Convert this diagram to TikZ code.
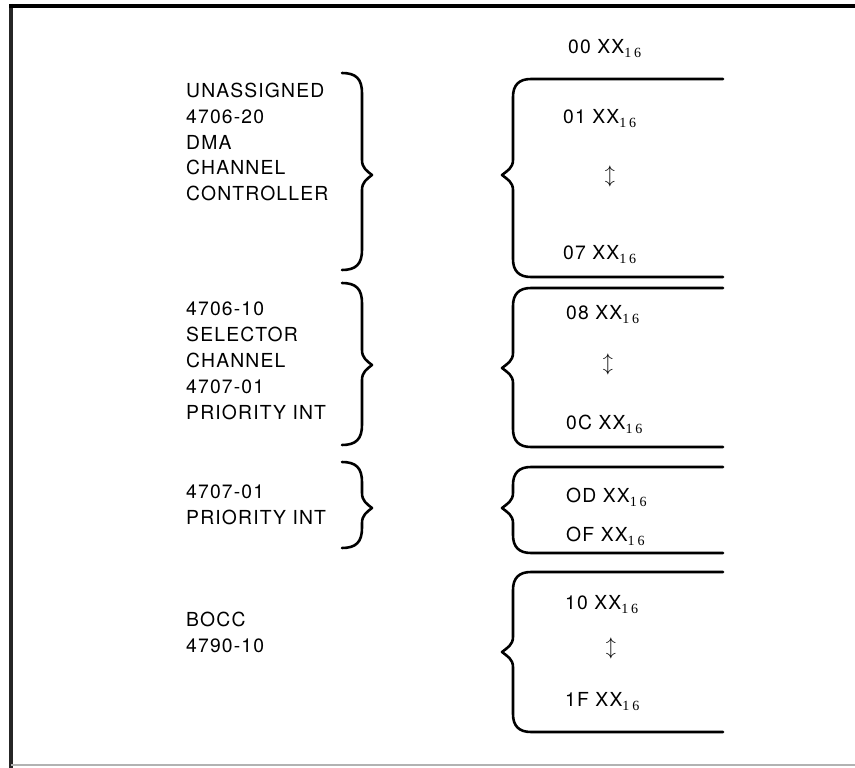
\documentclass[tikz,border=0pt]{standalone}
\usepackage{fontspec}
\setmainfont{TeX Gyre Heros}[LetterSpace=6]
\newfontfamily\subfont{Liberation Serif}[LetterSpace=20]
\newcommand{\addr}[1]{#1 XX\raisebox{-2.8pt}{\subfont\fontsize{12}{12}\selectfont 16}}
%% right brace of an address block: top, tip, bottom
\newcommand{\addrbrace}[3]{%
  \draw[brc] (723,#1) -- (531,#1) .. controls (519,#1) and (513,#1+6) .. (513,#1+18)
    -- (513,#2-15) .. controls (513,#2-7) and (507,#2-4) .. (502,#2)
    .. controls (507,#2+4) and (513,#2+7) .. (513,#2+15)
    -- (513,#3-18) .. controls (513,#3-6) and (519,#3) .. (531,#3) -- (723,#3);}
%% left brace after a label: top, tip, bottom
\newcommand{\lblbrace}[3]{%
  \draw[brc] (342,#1) .. controls (356,#1) and (362,#1+6) .. (362,#1+20)
    -- (362,#2-15) .. controls (362,#2-7) and (367,#2-4) .. (372,#2)
    .. controls (367,#2+4) and (362,#2+7) .. (362,#2+15)
    -- (362,#3-20) .. controls (362,#3-6) and (356,#3) .. (342,#3);}
\tikzset{
  brc/.style={line width=2.2pt,line cap=round,line join=round},
  lbl/.style={anchor=west,align=left,inner sep=0pt,font=\fontsize{16.5}{22.1}\selectfont},
  adr/.style={anchor=base west,inner sep=0pt,font=\fontsize{16.5}{18}\selectfont},
  updn/.style={inner sep=0pt,font=\fontsize{18}{18}\selectfont}
}
\begin{document}
\begin{tikzpicture}[x=0.03cm,y=-0.03cm]
  \useasboundingbox (0,0) rectangle (855,768);

%% frame
  \draw[line width=4pt,black!85] (11,4) -- (11,768);
  \draw[line width=2.6pt] (9,6) -- (855,6);
  \draw[line width=1.2pt,black!30] (11,765) -- (855,765);

%% labels
  \node[lbl] (l1) at (186,142) {UNASSIGNED\\4706-20\\DMA\\CHANNEL\\CONTROLLER};
  \node[lbl] (l2) at (186,361) {4706-10\\SELECTOR\\CHANNEL\\4707-01\\PRIORITY INT};
  \node[lbl] (l3) at (186,505) {4707-01\\PRIORITY INT};
  \node[lbl] (l4) at (186,632) {BOCC\\4790-10};

%% label braces
  \lblbrace{73}{175}{270}
  \lblbrace{283}{365}{445}
  \lblbrace{462}{508}{548}

%% addresses
  \node[adr] (a00) at (568,54) {\addr{00}};
  \node[adr] (a01) at (563,124) {\addr{01}};
  \node[updn] (u1) at (610,176) {$\updownarrow$};
  \node[adr] (a07) at (563,260) {\addr{07}};
  \node[adr] (a08) at (566,320) {\addr{08}};
  \node[updn] (u2) at (608,364) {$\updownarrow$};
  \node[adr] (a0C) at (566,430) {\addr{0C}};
  \node[adr] (a0D) at (566,503) {\addr{OD}};
  \node[adr] (a0F) at (566,542) {\addr{OF}};
  \node[adr] (a10) at (565,610) {\addr{10}};
  \node[updn] (u4) at (611,648) {$\updownarrow$};
  \node[adr] (a1F) at (565,707) {\addr{1F}};

%% address braces
  \addrbrace{79}{175}{277}
  \addrbrace{288}{368}{447}
  \addrbrace{467}{508}{553}
  \addrbrace{572}{652}{732}
\end{tikzpicture}
\end{document}
